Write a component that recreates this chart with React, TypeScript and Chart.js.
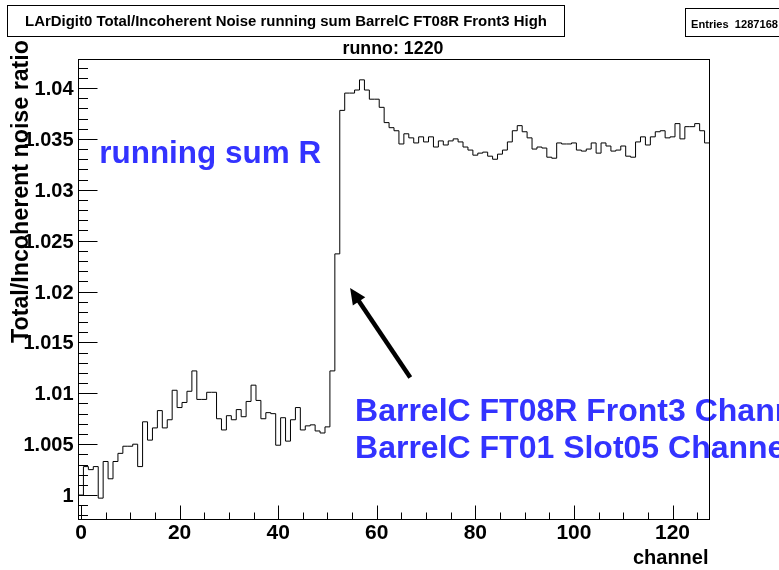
import React, { useEffect, useRef } from "react";
import { Chart, registerables } from "chart.js";

Chart.register(...registerables);

// Histogram: 128 channels (bin centres 0..127)
const channels: number[] = Array.from({ length: 128 }, (_, i) => i);
const ratio: number[] = [
  1.0000, 1.0028, 1.0025, 1.0028, 0.9997, 1.0033, 1.0016, 1.0033, 1.0041, 1.0048,
  1.0048, 1.0050, 1.0028, 1.0072, 1.0054, 1.0066, 1.0083, 1.0066, 1.0074, 1.0103,
  1.0086, 1.0091, 1.0102, 1.0122, 1.0094, 1.0094, 1.0101, 1.0101, 1.0075, 1.0064,
  1.0078, 1.0074, 1.0084, 1.0077, 1.0092, 1.0108, 1.0093, 1.0075, 1.0081, 1.0080,
  1.0049, 1.0076, 1.0053, 1.0074, 1.0086, 1.0064, 1.0068, 1.0069, 1.0063, 1.0061,
  1.0067, 1.0122, 1.0237, 1.0378, 1.0395, 1.0395, 1.0398, 1.0408, 1.0398, 1.0389,
  1.0389, 1.0381, 1.0366, 1.0361, 1.0358, 1.0345, 1.0355, 1.0351, 1.0346, 1.0352,
  1.0347, 1.0352, 1.0342, 1.0348, 1.0344, 1.0348, 1.0350, 1.0347, 1.0342, 1.0339,
  1.0334, 1.0336, 1.0337, 1.0333, 1.0330, 1.0335, 1.0339, 1.0347, 1.0358, 1.0363,
  1.0357, 1.0351, 1.0340, 1.0342, 1.0341, 1.0332, 1.0331, 1.0346, 1.0345, 1.0345,
  1.0346, 1.0339, 1.0338, 1.0340, 1.0346, 1.0336, 1.0346, 1.0343, 1.0338, 1.0339,
  1.0343, 1.0333, 1.0332, 1.0347, 1.0352, 1.0344, 1.0352, 1.0357, 1.0358, 1.0351,
  1.0352, 1.0365, 1.0350, 1.0362, 1.0362, 1.0365, 1.0358, 1.0346,
];

const xTickValues: number[] = [0, 20, 40, 60, 80, 100, 120];
const xTickLabels: string[] = ["0", "20", "40", "60", "80", "100", "120"];
const yTickValues: number[] = [1, 1.005, 1.01, 1.015, 1.02, 1.025, 1.03, 1.035, 1.04];
const yTickLabels: string[] = ["1", "1.005", "1.01", "1.015", "1.02", "1.025", "1.03", "1.035", "1.04"];

const X_MIN = -0.5;
const X_MAX = 127.5;
const Y_MIN = 0.9976;
const Y_MAX = 1.0428;

const titleText = "LArDigit0 Total/Incoherent Noise running sum BarrelC FT08R Front3 High";
const statsText = "Entries  1287168";
const runText = "runno: 1220";
const xTitle = "channel";
const yTitle = "Total/Incoherent noise ratio";
const noteText = "running sum R";
const noteAt: [number, number] = [3.7, 1.0326];
const channelLines: string[] = [
  "BarrelC FT08R Front3 Channel 52",
  "BarrelC FT01 Slot05 Channel 52",
];
const channelLinesAt: [number, number][] = [
  [55.6, 1.00732],
  [55.6, 1.00368],
];
const arrowFrom: [number, number] = [66.8, 1.01155];
const arrowTo: [number, number] = [54.6, 1.02034];

const FONT = "'Liberation Sans', Arial, Helvetica, sans-serif";
const BLUE = "rgb(51,51,255)";

function drawText(
  ctx: CanvasRenderingContext2D,
  text: string,
  x: number,
  y: number,
  font: string,
  align: CanvasTextAlign,
  fitWidth?: number,
  baseline: CanvasTextBaseline = "alphabetic"
) {
  ctx.save();
  ctx.font = font;
  const w = ctx.measureText(text).width;
  const s = fitWidth ? fitWidth / w : 1;
  ctx.translate(x, y);
  ctx.scale(s, 1);
  ctx.textAlign = align;
  ctx.textBaseline = baseline;
  ctx.fillText(text, 0, 0);
  ctx.restore();
}

const rootDecor = {
  id: "rootDecor",
  beforeDraw(chart: any) {
    const ctx = chart.ctx as CanvasRenderingContext2D;
    ctx.save();
    ctx.fillStyle = "#ffffff";
    ctx.fillRect(0, 0, chart.width, chart.height);
    ctx.restore();
  },
  afterDraw(chart: any) {
    const ctx = chart.ctx as CanvasRenderingContext2D;
    const xs = chart.scales.x;
    const ys = chart.scales.y;
    const { left, right, top, bottom } = chart.chartArea;
    ctx.save();
    ctx.strokeStyle = "#000";
    ctx.fillStyle = "#000";
    ctx.lineWidth = 1;

    // y ticks (inside, left)
    ctx.beginPath();
    for (let k = 998; k <= 1042; k++) {
      const v = k / 1000;
      const py = Math.round(ys.getPixelForValue(v)) + 0.5;
      const major = k % 5 === 0;
      ctx.moveTo(left, py);
      ctx.lineTo(left + (major ? 19 : 9.5), py);
    }
    // x ticks (inside, bottom)
    for (let c = 0; c <= 125; c += 5) {
      const px = Math.round(xs.getPixelForValue(c)) + 0.5;
      const major = c % 20 === 0;
      ctx.moveTo(px, bottom);
      ctx.lineTo(px, bottom - (major ? 14 : 7));
    }
    ctx.stroke();

    // tick labels
    const tickFontY = `bold 20px ${FONT}`;
    yTickValues.forEach((v, i) => {
      drawText(ctx, yTickLabels[i], left - 5, ys.getPixelForValue(v) + 7, tickFontY, "right");
    });
    const tickFontX = `bold 21px ${FONT}`;
    xTickValues.forEach((v, i) => {
      drawText(ctx, xTickLabels[i], xs.getPixelForValue(v), bottom + 19.5, tickFontX, "center");
    });

    // axis titles
    drawText(ctx, xTitle, right - 1, 564, `bold 20px ${FONT}`, "right");
    ctx.save();
    ctx.translate(28, 40);
    ctx.rotate(-Math.PI / 2);
    drawText(ctx, yTitle, 0, 0, `bold 23px ${FONT}`, "right", 303);
    ctx.restore();

    // pad title box
    ctx.lineWidth = 1;
    ctx.strokeRect(7.5, 5.5, 557, 31);
    drawText(ctx, titleText, 286, 26, `bold 15px ${FONT}`, "center", 522);
    // stats box
    ctx.strokeRect(685.5, 8.5, 120, 28);
    drawText(ctx, statsText, 691, 28, `bold 11px ${FONT}`, "left", 87);
    // histogram title
    drawText(ctx, runText, 393, 54, `bold 19px ${FONT}`, "center", 101);

    // blue annotations
    ctx.fillStyle = BLUE;
    drawText(ctx, noteText, xs.getPixelForValue(noteAt[0]), ys.getPixelForValue(noteAt[1]), `bold 31px ${FONT}`, "left", 222);
    channelLines.forEach((t, i) => {
      drawText(ctx, t, xs.getPixelForValue(channelLinesAt[i][0]), ys.getPixelForValue(channelLinesAt[i][1]), `bold 32px ${FONT}`, "left");
    });

    // arrow
    const ax0 = xs.getPixelForValue(arrowFrom[0]);
    const ay0 = ys.getPixelForValue(arrowFrom[1]);
    const ax1 = xs.getPixelForValue(arrowTo[0]);
    const ay1 = ys.getPixelForValue(arrowTo[1]);
    const ang = Math.atan2(ay1 - ay0, ax1 - ax0);
    const headLen = 16;
    const headHalf = 7.5;
    const bx = ax1 - headLen * Math.cos(ang);
    const by = ay1 - headLen * Math.sin(ang);
    ctx.strokeStyle = "#000";
    ctx.fillStyle = "#000";
    ctx.lineWidth = 4.5;
    ctx.beginPath();
    ctx.moveTo(ax0, ay0);
    ctx.lineTo(bx + 2 * Math.cos(ang), by + 2 * Math.sin(ang));
    ctx.stroke();
    ctx.beginPath();
    ctx.moveTo(ax1, ay1);
    ctx.lineTo(bx + headHalf * Math.sin(ang), by - headHalf * Math.cos(ang));
    ctx.lineTo(bx - headHalf * Math.sin(ang), by + headHalf * Math.cos(ang));
    ctx.closePath();
    ctx.fill();

    // frame
    ctx.lineWidth = 1;
    ctx.strokeStyle = "#000";
    ctx.strokeRect(left, top, right - left, bottom - top);
    ctx.restore();
  },
};

export default function App() {
  const canvasRef = useRef<HTMLCanvasElement | null>(null);

  useEffect(() => {
    const canvas = canvasRef.current;
    if (!canvas) return;
    const points = channels.map((c, i) => ({ x: c - 0.5, y: ratio[i] }));
    points.push({ x: channels[channels.length - 1] + 0.5, y: ratio[ratio.length - 1] });

    const chart = new Chart(canvas, {
      type: "line",
      data: {
        datasets: [
          {
            label: "ratio",
            data: points,
            stepped: "before",
            borderColor: "#000",
            borderWidth: 1,
            pointRadius: 0,
            fill: false,
            tension: 0,
          },
        ],
      },
      options: {
        responsive: false,
        animation: false,
        devicePixelRatio: 1,
        parsing: false as any,
        normalized: true,
        layout: { padding: { left: 78.5, right: 69.5, top: 59.5, bottom: 50.5 } },
        scales: {
          x: { type: "linear", min: X_MIN, max: X_MAX, display: false },
          y: { type: "linear", min: Y_MIN, max: Y_MAX, display: false },
        },
        plugins: {
          legend: { display: false },
          tooltip: { enabled: false },
          title: { display: false },
        },
        events: [],
      },
      plugins: [rootDecor as any],
    });
    return () => chart.destroy();
  }, []);

  return (
    <div style={{ position: "fixed", left: 0, top: 0, width: 779, height: 570, background: "#fff" }}>
      <canvas ref={canvasRef} width={779} height={570} style={{ display: "block" }} />
    </div>
  );
}
